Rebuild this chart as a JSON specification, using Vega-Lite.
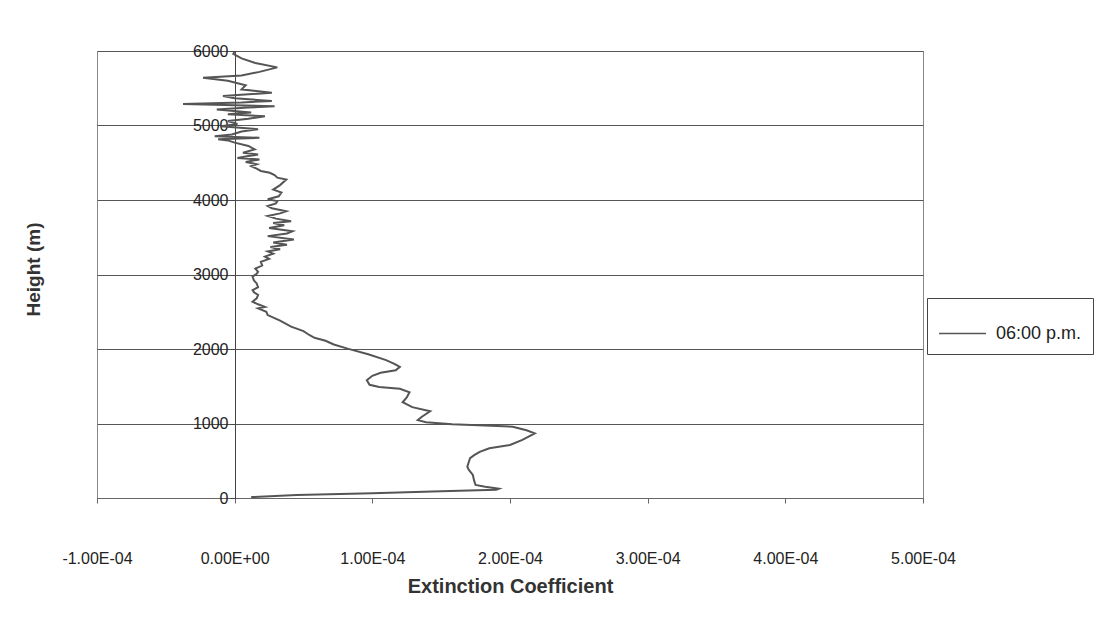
{
  "$schema": "https://vega.github.io/schema/vega-lite/v6.json",
  "width": 826,
  "height": 447,
  "autosize": {"type": "none"},
  "padding": {"left": 97, "top": 51, "right": 177, "bottom": 132},
  "background": "white",
  "config": {
    "view": {"stroke": "#888", "strokeWidth": 1},
    "font": "Liberation Sans"
  },
  "data": {
    "values": [
      {"h": 12, "v": 0.12, "s": "06:00 p.m."},
      {"h": 40, "v": 0.45, "s": "06:00 p.m."},
      {"h": 65, "v": 1.0, "s": "06:00 p.m."},
      {"h": 90, "v": 1.5, "s": "06:00 p.m."},
      {"h": 110, "v": 1.9, "s": "06:00 p.m."},
      {"h": 125, "v": 1.92, "s": "06:00 p.m."},
      {"h": 150, "v": 1.82, "s": "06:00 p.m."},
      {"h": 175, "v": 1.75, "s": "06:00 p.m."},
      {"h": 230, "v": 1.74, "s": "06:00 p.m."},
      {"h": 310, "v": 1.73, "s": "06:00 p.m."},
      {"h": 380, "v": 1.7, "s": "06:00 p.m."},
      {"h": 420, "v": 1.69, "s": "06:00 p.m."},
      {"h": 480, "v": 1.7, "s": "06:00 p.m."},
      {"h": 535, "v": 1.71, "s": "06:00 p.m."},
      {"h": 575, "v": 1.74, "s": "06:00 p.m."},
      {"h": 620, "v": 1.78, "s": "06:00 p.m."},
      {"h": 667, "v": 1.85, "s": "06:00 p.m."},
      {"h": 711, "v": 2.0, "s": "06:00 p.m."},
      {"h": 780, "v": 2.09, "s": "06:00 p.m."},
      {"h": 868, "v": 2.18, "s": "06:00 p.m."},
      {"h": 910, "v": 2.12, "s": "06:00 p.m."},
      {"h": 957, "v": 2.02, "s": "06:00 p.m."},
      {"h": 989, "v": 1.58, "s": "06:00 p.m."},
      {"h": 1016, "v": 1.39, "s": "06:00 p.m."},
      {"h": 1045, "v": 1.33, "s": "06:00 p.m."},
      {"h": 1090, "v": 1.36, "s": "06:00 p.m."},
      {"h": 1165, "v": 1.42, "s": "06:00 p.m."},
      {"h": 1220, "v": 1.29, "s": "06:00 p.m."},
      {"h": 1285, "v": 1.22, "s": "06:00 p.m."},
      {"h": 1350, "v": 1.25, "s": "06:00 p.m."},
      {"h": 1420, "v": 1.27, "s": "06:00 p.m."},
      {"h": 1465, "v": 1.2, "s": "06:00 p.m."},
      {"h": 1490, "v": 1.05, "s": "06:00 p.m."},
      {"h": 1520, "v": 0.98, "s": "06:00 p.m."},
      {"h": 1580, "v": 0.96, "s": "06:00 p.m."},
      {"h": 1640, "v": 1.0, "s": "06:00 p.m."},
      {"h": 1680, "v": 1.06, "s": "06:00 p.m."},
      {"h": 1715, "v": 1.17, "s": "06:00 p.m."},
      {"h": 1760, "v": 1.2, "s": "06:00 p.m."},
      {"h": 1800, "v": 1.16, "s": "06:00 p.m."},
      {"h": 1850, "v": 1.1, "s": "06:00 p.m."},
      {"h": 1930, "v": 0.97, "s": "06:00 p.m."},
      {"h": 2005, "v": 0.82, "s": "06:00 p.m."},
      {"h": 2060, "v": 0.72, "s": "06:00 p.m."},
      {"h": 2110, "v": 0.66, "s": "06:00 p.m."},
      {"h": 2150, "v": 0.58, "s": "06:00 p.m."},
      {"h": 2185, "v": 0.545, "s": "06:00 p.m."},
      {"h": 2215, "v": 0.52, "s": "06:00 p.m."},
      {"h": 2240, "v": 0.5, "s": "06:00 p.m."},
      {"h": 2300, "v": 0.41, "s": "06:00 p.m."},
      {"h": 2380, "v": 0.33, "s": "06:00 p.m."},
      {"h": 2455, "v": 0.24, "s": "06:00 p.m."},
      {"h": 2500, "v": 0.23, "s": "06:00 p.m."},
      {"h": 2545, "v": 0.17, "s": "06:00 p.m."},
      {"h": 2565, "v": 0.22, "s": "06:00 p.m."},
      {"h": 2600, "v": 0.17, "s": "06:00 p.m."},
      {"h": 2635, "v": 0.13, "s": "06:00 p.m."},
      {"h": 2680, "v": 0.16, "s": "06:00 p.m."},
      {"h": 2725, "v": 0.17, "s": "06:00 p.m."},
      {"h": 2760, "v": 0.14, "s": "06:00 p.m."},
      {"h": 2790, "v": 0.13, "s": "06:00 p.m."},
      {"h": 2830, "v": 0.17, "s": "06:00 p.m."},
      {"h": 2880, "v": 0.16, "s": "06:00 p.m."},
      {"h": 2920, "v": 0.14, "s": "06:00 p.m."},
      {"h": 2970, "v": 0.13, "s": "06:00 p.m."},
      {"h": 3010, "v": 0.16, "s": "06:00 p.m."},
      {"h": 3035, "v": 0.17, "s": "06:00 p.m."},
      {"h": 3080, "v": 0.15, "s": "06:00 p.m."},
      {"h": 3120, "v": 0.2, "s": "06:00 p.m."},
      {"h": 3170, "v": 0.19, "s": "06:00 p.m."},
      {"h": 3210, "v": 0.25, "s": "06:00 p.m."},
      {"h": 3240, "v": 0.22, "s": "06:00 p.m."},
      {"h": 3280, "v": 0.28, "s": "06:00 p.m."},
      {"h": 3310, "v": 0.24, "s": "06:00 p.m."},
      {"h": 3340, "v": 0.33, "s": "06:00 p.m."},
      {"h": 3370, "v": 0.26, "s": "06:00 p.m."},
      {"h": 3400, "v": 0.38, "s": "06:00 p.m."},
      {"h": 3430, "v": 0.28, "s": "06:00 p.m."},
      {"h": 3470, "v": 0.43, "s": "06:00 p.m."},
      {"h": 3515, "v": 0.24, "s": "06:00 p.m."},
      {"h": 3550, "v": 0.38, "s": "06:00 p.m."},
      {"h": 3580, "v": 0.42, "s": "06:00 p.m."},
      {"h": 3625, "v": 0.25, "s": "06:00 p.m."},
      {"h": 3660, "v": 0.36, "s": "06:00 p.m."},
      {"h": 3690, "v": 0.28, "s": "06:00 p.m."},
      {"h": 3715, "v": 0.41, "s": "06:00 p.m."},
      {"h": 3750, "v": 0.3, "s": "06:00 p.m."},
      {"h": 3785, "v": 0.24, "s": "06:00 p.m."},
      {"h": 3820, "v": 0.33, "s": "06:00 p.m."},
      {"h": 3850, "v": 0.375, "s": "06:00 p.m."},
      {"h": 3890, "v": 0.27, "s": "06:00 p.m."},
      {"h": 3920, "v": 0.24, "s": "06:00 p.m."},
      {"h": 3955, "v": 0.3, "s": "06:00 p.m."},
      {"h": 3985, "v": 0.31, "s": "06:00 p.m."},
      {"h": 4010, "v": 0.24, "s": "06:00 p.m."},
      {"h": 4050, "v": 0.32, "s": "06:00 p.m."},
      {"h": 4100, "v": 0.34, "s": "06:00 p.m."},
      {"h": 4140, "v": 0.28, "s": "06:00 p.m."},
      {"h": 4200, "v": 0.33, "s": "06:00 p.m."},
      {"h": 4275, "v": 0.375, "s": "06:00 p.m."},
      {"h": 4300, "v": 0.31, "s": "06:00 p.m."},
      {"h": 4335, "v": 0.29, "s": "06:00 p.m."},
      {"h": 4365, "v": 0.255, "s": "06:00 p.m."},
      {"h": 4390, "v": 0.19, "s": "06:00 p.m."},
      {"h": 4420, "v": 0.16, "s": "06:00 p.m."},
      {"h": 4455, "v": 0.12, "s": "06:00 p.m."},
      {"h": 4480, "v": 0.16, "s": "06:00 p.m."},
      {"h": 4510, "v": 0.08, "s": "06:00 p.m."},
      {"h": 4545, "v": 0.18, "s": "06:00 p.m."},
      {"h": 4565, "v": 0.02, "s": "06:00 p.m."},
      {"h": 4590, "v": 0.1, "s": "06:00 p.m."},
      {"h": 4610, "v": 0.17, "s": "06:00 p.m."},
      {"h": 4635, "v": 0.06, "s": "06:00 p.m."},
      {"h": 4680, "v": 0.145, "s": "06:00 p.m."},
      {"h": 4725, "v": 0.1, "s": "06:00 p.m."},
      {"h": 4770, "v": 0.0, "s": "06:00 p.m."},
      {"h": 4800, "v": -0.05, "s": "06:00 p.m."},
      {"h": 4815, "v": -0.12, "s": "06:00 p.m."},
      {"h": 4835, "v": 0.18, "s": "06:00 p.m."},
      {"h": 4855, "v": -0.145, "s": "06:00 p.m."},
      {"h": 4880, "v": -0.02, "s": "06:00 p.m."},
      {"h": 4920, "v": 0.05, "s": "06:00 p.m."},
      {"h": 4950, "v": 0.17, "s": "06:00 p.m."},
      {"h": 4990, "v": -0.1, "s": "06:00 p.m."},
      {"h": 5020, "v": 0.02, "s": "06:00 p.m."},
      {"h": 5060, "v": -0.05, "s": "06:00 p.m."},
      {"h": 5090, "v": 0.1, "s": "06:00 p.m."},
      {"h": 5125, "v": 0.22, "s": "06:00 p.m."},
      {"h": 5150, "v": -0.05, "s": "06:00 p.m."},
      {"h": 5175, "v": 0.12, "s": "06:00 p.m."},
      {"h": 5215, "v": -0.13, "s": "06:00 p.m."},
      {"h": 5240, "v": 0.1, "s": "06:00 p.m."},
      {"h": 5260, "v": 0.29, "s": "06:00 p.m."},
      {"h": 5290, "v": -0.375, "s": "06:00 p.m."},
      {"h": 5310, "v": 0.05, "s": "06:00 p.m."},
      {"h": 5330, "v": 0.27, "s": "06:00 p.m."},
      {"h": 5365, "v": 0.0, "s": "06:00 p.m."},
      {"h": 5395, "v": -0.085, "s": "06:00 p.m."},
      {"h": 5440, "v": 0.27, "s": "06:00 p.m."},
      {"h": 5485, "v": 0.05, "s": "06:00 p.m."},
      {"h": 5540, "v": 0.08, "s": "06:00 p.m."},
      {"h": 5600, "v": -0.05, "s": "06:00 p.m."},
      {"h": 5640, "v": -0.23, "s": "06:00 p.m."},
      {"h": 5670, "v": 0.05, "s": "06:00 p.m."},
      {"h": 5720, "v": 0.18, "s": "06:00 p.m."},
      {"h": 5780, "v": 0.31, "s": "06:00 p.m."},
      {"h": 5840, "v": 0.15, "s": "06:00 p.m."},
      {"h": 5900, "v": 0.05, "s": "06:00 p.m."},
      {"h": 5960, "v": -0.01, "s": "06:00 p.m."},
      {"h": 5990, "v": 0.0, "s": "06:00 p.m."}
    ]
  },
  "transform": [{"calculate": "datum.v * 0.0001", "as": "ext"}],
  "mark": {"type": "line", "strokeWidth": 2, "clip": true},
  "encoding": {
    "x": {
      "field": "ext",
      "type": "quantitative",
      "scale": {"domain": [-0.0001, 0.0005], "nice": false, "zero": false},
      "axis": {
        "values": [-0.0001, 0, 0.0001, 0.0002, 0.0003, 0.0004, 0.0005],
        "labelExpr": "abs(datum.value) < 1e-9 ? '0.00E+00' : (datum.value < 0 ? '-' : '') + format(abs(datum.value) * 10000, '.2f') + 'E-04'",
        "labelFlush": false,
        "labelOverlap": false,
        "grid": false,
        "domainColor": "#666",
        "tickColor": "#666",
        "tickSize": 5,
        "labelPadding": 47,
        "labelFontSize": 16,
        "labelColor": "#222",
        "labelFont": "Liberation Sans",
        "title": "Extinction Coefficient",
        "titleFontSize": 20,
        "titleFontWeight": "bold",
        "titleColor": "#333",
        "titlePadding": 10
      }
    },
    "y": {
      "field": "h",
      "type": "quantitative",
      "scale": {"domain": [0, 6000], "nice": false},
      "axis": {
        "values": [0, 1000, 2000, 3000, 4000, 5000, 6000],
        "format": "d",
        "offset": -138,
        "labelFlush": false,
        "grid": true,
        "gridColor": "#555",
        "gridOpacity": 1,
        "gridWidth": 1,
        "domainColor": "#444",
        "tickColor": "#444",
        "tickSize": 5,
        "labelPadding": 2,
        "labelFontSize": 16,
        "labelColor": "#222",
        "title": "Height (m)",
        "titleFontSize": 19,
        "titleFontWeight": "bold",
        "titleColor": "#333",
        "titleX": -192,
        "titleY": 218
      }
    },
    "order": {"field": "h", "type": "quantitative"},
    "color": {
      "field": "s",
      "type": "nominal",
      "scale": {"range": ["#555555"]},
      "legend": {
        "title": null,
        "orient": "none",
        "legendX": 830,
        "legendY": 247,
        "strokeColor": "#444",
        "padding": 11,
        "symbolType": "stroke",
        "symbolSize": 2200,
        "symbolStrokeWidth": 1.5,
        "labelFontSize": 18,
        "labelColor": "#222",
        "labelOffset": 9
      }
    }
  }
}
